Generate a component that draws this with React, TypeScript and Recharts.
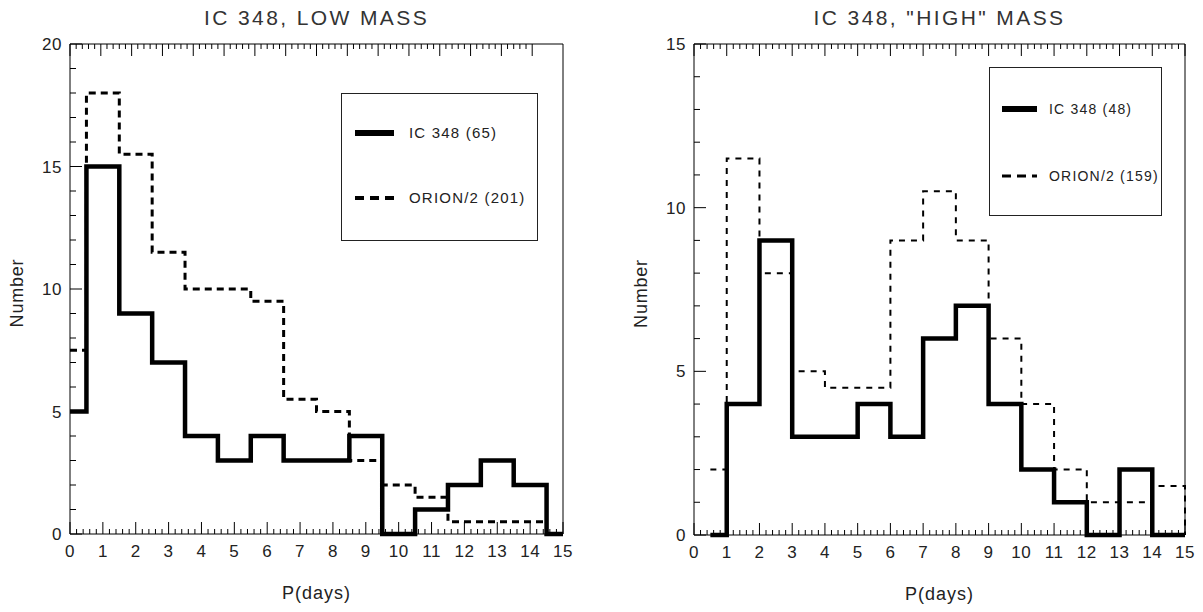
import { LineChart, Line, XAxis, YAxis, Legend } from 'recharts';

// left panel: IC 348 low mass (bins centred on whole days)
const lowEdges = [0, 0.5, 1.5, 2.5, 3.5, 4.5, 5.5, 6.5, 7.5, 8.5, 9.5, 10.5, 11.5, 12.5, 13.5, 14.5, 15];
const lowIc348 = [5, 15, 9, 7, 4, 3, 4, 3, 3, 4, 0, 1, 2, 3, 2, 0, 0];
const lowOrion = [7.5, 18, 15.5, 11.5, 10, 10, 9.5, 5.5, 5, 3, 2, 1.5, 0.5, 0.5, 0.5, 0, 0];

// right panel: IC 348 "high" mass (bins between whole days)
const highEdges = [0.5, 1, 2, 3, 4, 5, 6, 7, 8, 9, 10, 11, 12, 13, 14, 15];
const highIc348 = [0, 4, 9, 3, 3, 4, 3, 6, 7, 4, 2, 1, 0, 2, 0, 0];
const highOrion = [2, 11.5, 8, 5, 4.5, 4.5, 9, 10.5, 9, 6, 4, 2, 1, 1, 1.5, 0];

const xLabels = [0, 1, 2, 3, 4, 5, 6, 7, 8, 9, 10, 11, 12, 13, 14, 15];
const lowYLabels = [0, 5, 10, 15, 20];
const highYLabels = [0, 5, 10, 15];

const FONT = '"Liberation Sans", Arial, sans-serif';
const INK = '#222';

// minor ticks every 0.2 day, every 1 count
const xTicks = Array.from({ length: 76 }, (_, i) => Math.round(i * 20) / 100);
const yTicks = (max: number) => Array.from({ length: max + 1 }, (_, i) => i);

const makeXTick = (side: 'top' | 'bottom') => (props: any) => {
  const { x, y, payload } = props;
  const v = payload.value;
  const major = xLabels.includes(v);
  const len = major ? 12 : 5;
  const dir = side === 'bottom' ? -1 : 1;
  return (
    <g>
      <line x1={x} x2={x} y1={y} y2={y + dir * len} stroke="#000" strokeWidth={1} />
      {side === 'bottom' && major && (
        <text x={x} y={y + 23} textAnchor="middle" fontSize={17} fontFamily={FONT} fill={INK} letterSpacing={0.5}>
          {v}
        </text>
      )}
    </g>
  );
};

const makeYTick = (side: 'left' | 'right', labels: number[]) => (props: any) => {
  const { x, y, payload } = props;
  const v = payload.value;
  const major = labels.includes(v);
  const len = major ? 12 : 6;
  const dir = side === 'left' ? 1 : -1;
  return (
    <g>
      <line x1={x} x2={x + dir * len} y1={y} y2={y} stroke="#000" strokeWidth={1} />
      {side === 'left' && major && (
        <text x={x - 8} y={y + 6} textAnchor="end" fontSize={17} fontFamily={FONT} fill={INK} letterSpacing={0.5}>
          {v}
        </text>
      )}
    </g>
  );
};

type LegendCfg = {
  left: number;
  top: number;
  width: number;
  height: number;
  rowY: number[];
  sampleX: number;
  sampleLen: number;
  textX: number;
  fontSize: number;
};

type PanelProps = {
  title: string;
  edges: number[];
  ic: number[];
  orion: number[];
  icName: string;
  orionName: string;
  yMax: number;
  yLabels: number[];
  width: number;
  margin: { top: number; right: number; bottom: number; left: number };
  legend: LegendCfg;
  dash: string;
  dashWidth: number;
};

const Panel = (p: PanelProps) => {
  const data = p.edges.map((x, i) => ({ x, ic: p.ic[i], orion: p.orion[i] }));
  const lg = p.legend;
  const rows = [
    { name: p.icName, w: 6, dash: undefined as string | undefined },
    { name: p.orionName, w: p.dashWidth + 1, dash: p.dash },
  ];
  return (
    <LineChart width={p.width} height={612} data={data} margin={p.margin}>
      <XAxis
        xAxisId="b"
        dataKey="x"
        type="number"
        domain={[0, 15]}
        ticks={xTicks}
        interval={0}
        height={1}
        tickSize={0}
        tickMargin={0}
        tickLine={false}
        axisLine={{ stroke: '#000' }}
        tick={makeXTick('bottom')}
        label={{ value: 'P(days)', position: 'bottom', offset: 51, fontSize: 18, fontFamily: FONT, fill: INK, letterSpacing: 1 }}
      />
      <XAxis
        xAxisId="t"
        orientation="top"
        type="number"
        domain={[0, 15]}
        ticks={xTicks}
        interval={0}
        height={1}
        tickSize={0}
        tickMargin={0}
        tickLine={false}
        axisLine={{ stroke: '#000' }}
        tick={makeXTick('top')}
        label={{ value: p.title, position: 'top', offset: 18, fontSize: 21, fontWeight: 'normal', fontFamily: FONT, fill: '#333', letterSpacing: 2.4 }}
      />
      <YAxis
        yAxisId="l"
        type="number"
        domain={[0, p.yMax]}
        ticks={yTicks(p.yMax)}
        interval={0}
        width={1}
        tickSize={0}
        tickMargin={0}
        tickLine={false}
        axisLine={{ stroke: '#000' }}
        tick={makeYTick('left', p.yLabels)}
        label={{
          content: (lp: any) => {
            const vb = lp.viewBox;
            const cx = vb.x - 51;
            const cy = vb.y + vb.height / 2 + 4;
            return (
              <text x={cx} y={cy} transform={`rotate(-90 ${cx} ${cy})`} textAnchor="middle" dominantBaseline="middle" fontSize={18} fontFamily={FONT} fill={INK} letterSpacing={0.8}>
                Number
              </text>
            );
          },
        }}
      />
      <YAxis
        yAxisId="r"
        orientation="right"
        type="number"
        domain={[0, p.yMax]}
        ticks={yTicks(p.yMax)}
        interval={0}
        width={1}
        tickSize={0}
        tickMargin={0}
        tickLine={false}
        axisLine={{ stroke: '#000' }}
        tick={makeYTick('right', p.yLabels)}
      />
      <Legend
        layout="horizontal"
        verticalAlign="middle"
        align="center"
        wrapperStyle={{ position: 'absolute', left: lg.left, top: lg.top, width: lg.width, height: lg.height }}
        content={() => (
          <svg width={lg.width} height={lg.height} style={{ display: 'block' }}>
            <rect x={0.5} y={0.5} width={lg.width - 1} height={lg.height - 1} fill="#fff" stroke="#222" strokeWidth={1} />
            {rows.map((r, i) => (
              <g key={r.name}>
                <line
                  x1={lg.sampleX}
                  x2={lg.sampleX + lg.sampleLen}
                  y1={lg.rowY[i]}
                  y2={lg.rowY[i]}
                  stroke="#000"
                  strokeWidth={r.w}
                  strokeDasharray={r.dash ? '9 6' : undefined}
                />
                <text x={lg.textX} y={lg.rowY[i] + 5} fontSize={lg.fontSize} fontFamily={FONT} fill={INK} letterSpacing={1.2}>
                  {r.name}
                </text>
              </g>
            ))}
          </svg>
        )}
      />
      <Line
        xAxisId="b"
        yAxisId="l"
        dataKey="orion"
        name={p.orionName}
        type="stepAfter"
        stroke="#000"
        strokeWidth={p.dashWidth}
        strokeDasharray={p.dash}
        dot={false}
        isAnimationActive={false}
      />
      <Line
        xAxisId="b"
        yAxisId="l"
        dataKey="ic"
        name={p.icName}
        type="stepAfter"
        stroke="#000"
        strokeWidth={4.5}
        dot={false}
        isAnimationActive={false}
      />
    </LineChart>
  );
};

export default function App() {
  return (
    <div style={{ position: 'absolute', left: 0, top: 0, width: 1203, height: 612, background: '#fff' }}>
      <div style={{ position: 'absolute', left: 0, top: 0 }}>
        <Panel
          title="IC 348, LOW MASS"
          edges={lowEdges}
          ic={lowIc348}
          orion={lowOrion}
          icName="IC 348 (65)"
          orionName="ORION/2 (201)"
          yMax={20}
          yLabels={lowYLabels}
          width={600}
          margin={{ top: 43, right: 36, bottom: 77, left: 69 }}
          legend={{ left: 341, top: 93, width: 197, height: 148, rowY: [40, 105], sampleX: 14, sampleLen: 39, textX: 68, fontSize: 15 }}
          dash="7 5"
          dashWidth={3}
        />
      </div>
      <div style={{ position: 'absolute', left: 620, top: 0 }}>
        <Panel
          title={'IC 348, "HIGH" MASS'}
          edges={highEdges}
          ic={highIc348}
          orion={highOrion}
          icName="IC 348 (48)"
          orionName="ORION/2 (159)"
          yMax={15}
          yLabels={highYLabels}
          width={583}
          margin={{ top: 43, right: 17, bottom: 76, left: 73 }}
          legend={{ left: 369, top: 67, width: 173, height: 149, rowY: [42, 109], sampleX: 13, sampleLen: 35, textX: 60, fontSize: 14 }}
          dash="6 6"
          dashWidth={2}
        />
      </div>
    </div>
  );
}
